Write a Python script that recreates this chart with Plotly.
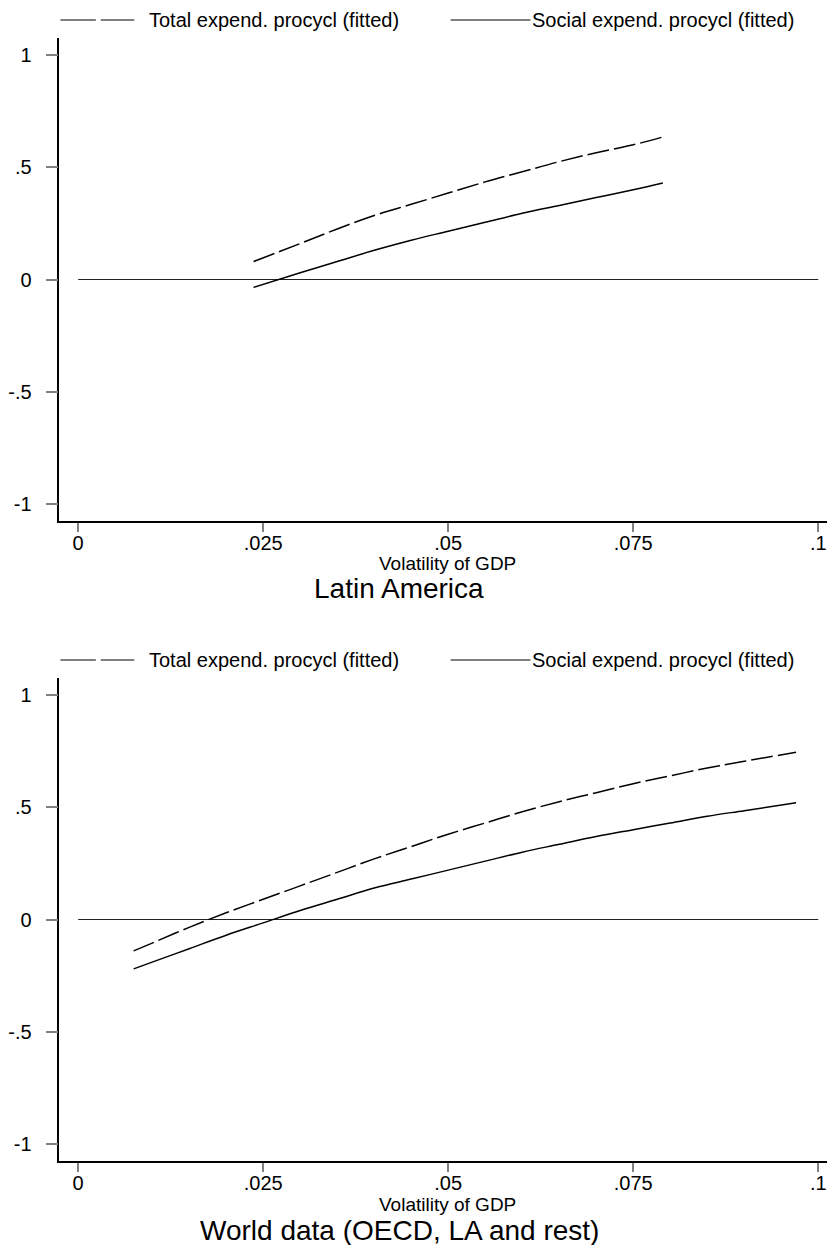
import plotly.graph_objects as go

# ---------------- data ----------------
x_ticks = [0, 0.025, 0.05, 0.075, 0.1]
x_ticktext = ["0", ".025", ".05", ".075", ".1"]
y_ticks = [-1, -0.5, 0, 0.5, 1]
y_ticktext = ["-1", "-.5", "0", ".5", "1"]

# Panel 1: Latin America
la_x = [0.0237, 0.03, 0.035, 0.04, 0.045, 0.05, 0.055, 0.06, 0.065, 0.07, 0.075, 0.079]
la_total = [0.08, 0.16, 0.225, 0.285, 0.335, 0.385, 0.435, 0.48, 0.525, 0.565, 0.60, 0.635]
la_social = [-0.035, 0.03, 0.08, 0.13, 0.175, 0.215, 0.255, 0.295, 0.33, 0.365, 0.40, 0.43]

# Panel 2: World data
w_x = [0.0075, 0.01, 0.015, 0.02, 0.025, 0.03, 0.035, 0.04, 0.045, 0.05,
       0.055, 0.06, 0.065, 0.07, 0.075, 0.08, 0.085, 0.09, 0.097]
w_total = [-0.14, -0.105, -0.035, 0.03, 0.09, 0.15, 0.21, 0.27, 0.325, 0.38,
           0.43, 0.48, 0.525, 0.565, 0.605, 0.64, 0.675, 0.705, 0.745]
w_social = [-0.22, -0.19, -0.13, -0.07, -0.015, 0.04, 0.09, 0.14, 0.18, 0.22,
            0.26, 0.30, 0.335, 0.37, 0.40, 0.43, 0.46, 0.485, 0.52]

zero_x = [0, 0.1]
zero_y = [0, 0]

legend_total = "Total expend. procycl (fitted)"
legend_social = "Social expend. procycl (fitted)"
x_title = "Volatility of GDP"
titles = ["Latin America", "World data (OECD, LA and rest)"]

# ---------------- layout helpers ----------------
# page has an 8px body margin, so the figure is 8px smaller and shifted
W, H = 827, 1237
OFF = 8
FONT = "Liberation Sans, Arial, sans-serif"

def py(p):  # reference page pixel -> paper y
    return 1 - (p - OFF) / H

def px(p):  # reference page pixel -> paper x
    return (p - OFF) / W

fig = go.Figure()

PANEL_SHIFT = 640
panels = [
    dict(x=la_x, total=la_total, social=la_social, xa="x", ya="y", off=0),
    dict(x=w_x, total=w_total, social=w_social, xa="x2", ya="y2", off=PANEL_SHIFT),
]

for p in panels:
    fig.add_trace(go.Scatter(x=zero_x, y=zero_y, mode="lines", xaxis=p["xa"], yaxis=p["ya"],
                             line=dict(color="#222222", width=1), showlegend=False, hoverinfo="skip"))
    fig.add_trace(go.Scatter(x=p["x"], y=p["total"], mode="lines", xaxis=p["xa"], yaxis=p["ya"],
                             line=dict(color="black", width=1.5, dash="22px,5px", shape="spline"),
                             name=legend_total, showlegend=False))
    fig.add_trace(go.Scatter(x=p["x"], y=p["social"], mode="lines", xaxis=p["xa"], yaxis=p["ya"],
                             line=dict(color="black", width=1.5, shape="spline"),
                             name=legend_social, showlegend=False))

xrange_ = [-0.00253, 0.10226]
yrange_ = [-1.076, 1.076]

def xaxis_cfg(anchor):
    return dict(domain=[px(48), 1], range=xrange_, anchor=anchor, showline=True, linecolor="black",
                linewidth=1.5, ticks="outside", ticklen=9, tickcolor="#808080", tickwidth=1.5,
                tickvals=x_ticks, ticktext=x_ticktext, showgrid=False, zeroline=False,
                ticklabelstandoff=-6,
                tickfont=dict(family=FONT, size=20, color="black"))

def yaxis_cfg(anchor, top, bottom):
    return dict(domain=[py(bottom), py(top)], range=yrange_, anchor=anchor, showline=True,
                linecolor="black", linewidth=1.5, ticks="outside", ticklen=12, tickcolor="#808080",
                tickwidth=1.5, tickvals=y_ticks, ticktext=y_ticktext, showgrid=False, zeroline=False,
                ticklabelstandoff=10,
                tickfont=dict(family=FONT, size=20, color="black"))

annotations = []
shapes = []
title_y = [588, 1230]
for i, p in enumerate(panels):
    off = p["off"]
    ly = py(20 + off)
    shapes.append(dict(type="line", xref="paper", yref="paper", x0=px(49), x1=px(85), y0=ly, y1=ly,
                       line=dict(color="black", width=1)))
    shapes.append(dict(type="line", xref="paper", yref="paper", x0=px(90), x1=px(124), y0=ly, y1=ly,
                       line=dict(color="black", width=1)))
    annotations.append(dict(text=legend_total, xref="paper", yref="paper", x=px(137), y=ly,
                            xanchor="left", yanchor="middle", showarrow=False,
                            font=dict(family=FONT, size=20, color="black")))
    shapes.append(dict(type="line", xref="paper", yref="paper", x0=px(445), x1=px(526), y0=ly, y1=ly,
                       line=dict(color="black", width=1)))
    annotations.append(dict(text=legend_social, xref="paper", yref="paper", x=px(526), y=ly,
                            xanchor="left", yanchor="middle", showarrow=False,
                            font=dict(family=FONT, size=20, color="black")))
    annotations.append(dict(text=x_title, xref="paper", yref="paper", x=px(442), y=py(564 + off),
                            xanchor="center", yanchor="middle", showarrow=False,
                            font=dict(family=FONT, size=19, color="black")))
    annotations.append(dict(text=titles[i], xref="paper", yref="paper", x=px(393), y=py(title_y[i]),
                            xanchor="center", yanchor="middle", showarrow=False,
                            font=dict(family=FONT, size=28, color="black")))

fig.update_layout(
    width=W, height=H,
    margin=dict(l=0, r=0, t=0, b=0, pad=0),
    paper_bgcolor="white", plot_bgcolor="white",
    showlegend=False,
    xaxis=xaxis_cfg("y"),
    yaxis=yaxis_cfg("x", 38, 521),
    xaxis2=xaxis_cfg("y2"),
    yaxis2=yaxis_cfg("x2", 38 + PANEL_SHIFT, 521 + PANEL_SHIFT),
    annotations=annotations,
    shapes=shapes,
)

fig.write_html("out.html")
